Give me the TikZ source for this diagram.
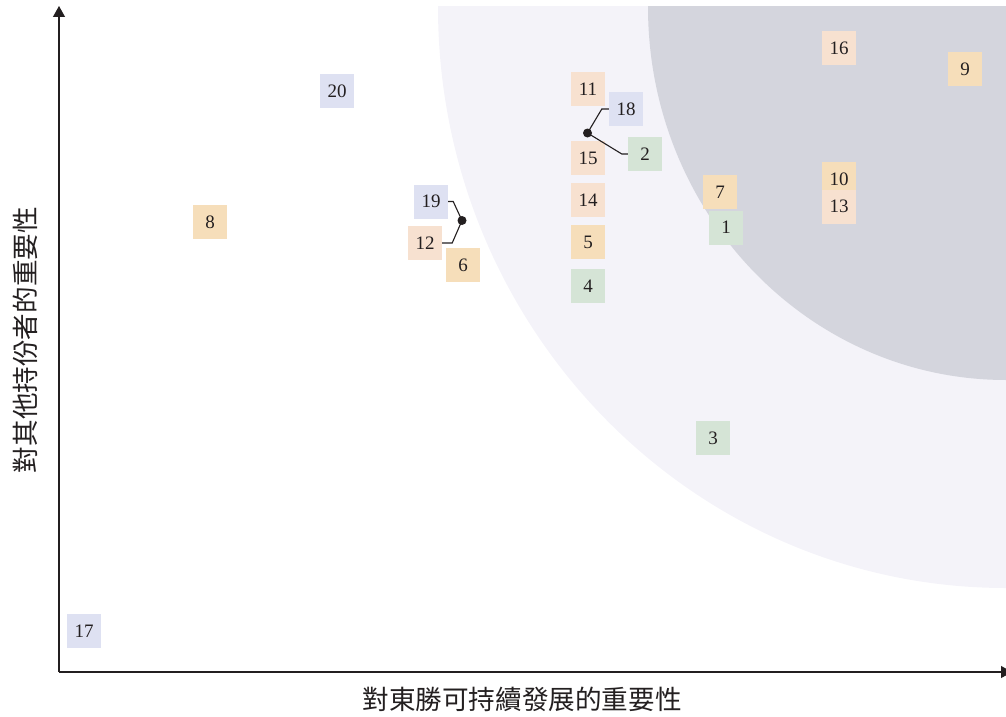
\documentclass[tikz,border=0pt]{standalone}
\usepackage{fontspec}
\setmainfont{Liberation Serif}
\newfontfamily\cjk{Noto Sans CJK TC}
\usetikzlibrary{arrows.meta}
\definecolor{txt}{HTML}{231F20}
\definecolor{peach}{HTML}{F7E1D0}
\definecolor{amber}{HTML}{F6DEBA}
\definecolor{lav}{HTML}{DEE1F2}
\definecolor{sage}{HTML}{D5E4D6}
\definecolor{bglight}{HTML}{F4F3F9}
\definecolor{bgdark}{HTML}{D4D5DD}
\tikzset{
  pt/.style={minimum width=34pt,minimum height=34pt,inner sep=0pt,text=txt,font=\fontsize{19}{20}\selectfont},
  pk/.style={pt,fill=peach},
  am/.style={pt,fill=amber},
  lv/.style={pt,fill=lav},
  sg/.style={pt,fill=sage},
  lead/.style={draw=txt,line width=1.1pt},
  axis/.style={draw=txt,line width=1.1pt,-{Triangle[length=11pt,width=12pt]}},
  dotmark/.style={circle,fill=txt,inner sep=0pt,minimum size=9pt}
}
\begin{document}
\begin{tikzpicture}[x=1pt,y=-1pt]
\useasboundingbox (0,0) rectangle (1006,717);
\begin{scope}
  \clip (0,7) rectangle (1006,717);
  \fill[bglight] (1006,7) ellipse [x radius=568, y radius=581];
  \fill[bgdark] (1006,7) ellipse [x radius=358, y radius=373];
\end{scope}
% axes
\coordinate (o) at (59,672);
\coordinate (ytip) at (59,6);
\coordinate (xtip) at (1012,672);
\draw[axis] (o) -- (ytip);
\draw[axis] (o) -- (xtip);
% labels
\node[text=txt,font=\cjk\fontsize{26.6}{29}\selectfont] (xl) at (522,699) {對東勝可持續發展的重要性};
\node[text=txt,font=\cjk\fontsize{26.6}{29}\selectfont,rotate=90] (yl) at (25,340) {對其他持份者的重要性};
% boxes
\node[pk] (n16) at (839,48) {16};
\node[am] (n9) at (965,69) {9};
\node[lv] (n20) at (337,91) {20};
\node[pk] (n11) at (588,89) {11};
\node[lv] (n18) at (626,109) {18};
\node[pk] (n15) at (588,158) {15};
\node[sg] (n2) at (645,154) {2};
\node[am] (n7) at (720,192) {7};
\node[am] (n10) at (839,179) {10};
\node[pk] (n13) at (839,206.5) {13};
\node[sg] (n1) at (726,227.5) {1};
\node[pk] (n14) at (588,200) {14};
\node[am] (n5) at (588,242) {5};
\node[sg] (n4) at (588,286) {4};
\node[lv] (n19) at (431,201.5) {19};
\node[pk] (n12) at (425,243) {12};
\node[am] (n6) at (463,265) {6};
\node[am] (n8) at (210,222) {8};
\node[sg] (n3) at (713,438) {3};
\node[lv] (n17) at (84,631) {17};
% leaders
\node[dotmark] (d1) at (462,220.5) {};
\node[dotmark] (d2) at (587.5,133) {};
\draw[lead] (n19.east) -- ++(5,0) -- (d1.center) -- ([xshift=10pt]n12.east) -- (n12.east);
\draw[lead] (d2.center) -- ([xshift=-7pt]n18.west) -- (n18.west);
\draw[lead] (d2.center) -- ([xshift=-6pt]n2.west) -- (n2.west);
\end{tikzpicture}
\end{document}
